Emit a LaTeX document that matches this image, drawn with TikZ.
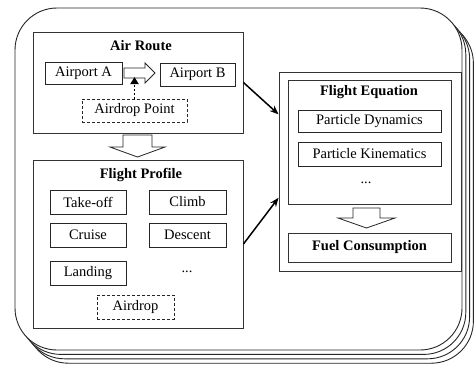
\documentclass[tikz,border=0pt]{standalone}
\usepackage{fontspec}
\setmainfont{Liberation Serif}
\usetikzlibrary{arrows.meta}

\begin{document}
\begin{tikzpicture}[
    x = 1pt, y = -1pt,
    font = \fontsize{14.5}{16}\selectfont,
    panel/.style = {draw = black!85,
      line width = 0.9pt,
      fill = white,
      rounded corners = 42pt},
    group/.style = {draw = black!80,
      line width = 0.9pt,
      inner sep = 0pt},
    title/.style = {font = \fontsize{14.5}{16}\selectfont\bfseries,
      inner sep = 0pt},
    item/.style = {draw = black!85,
      line width = 0.8pt,
      inner sep = 0pt,
      minimum height = 23pt},
    option/.style = {item, dash pattern = on 3pt off 2pt},
    hollow/.style = {draw = black!85,
      line width = 0.8pt,
      fill = white},
    link/.style = {-{Stealth[length = 9pt, width = 7pt]}, line width = 1.5pt},
    ]

    \useasboundingbox (0, 0) rectangle (476, 368);

    \foreach \k in {3, 2, 1}
    \draw [panel, shift = {(\k*3.8, \k*4.4)}] (15, 8) rectangle (462, 350);
    \draw [panel] (15, 8) rectangle (462, 350);

    \node at (138, 82.5)
    [group, minimum width = 210pt, minimum height = 101pt, name = route] {};
    \node at (141, 46) [title, name = route_t] {Air Route};
    \node at (83.5, 73)
    [item, minimum width = 77pt, minimum height = 22pt, name = apt_a] {Airport A};
    \node at (197.5, 74.5)
    [item, minimum width = 75pt, name = apt_b] {Airport B};
    \node at (134.5, 110.5)
    [option, minimum width = 105pt, name = drop_pt] {Airdrop Point};

    \draw [hollow] (124, 68) -- (145, 68) -- (145, 63) -- (155, 73)
    -- (145, 83) -- (145, 78) -- (124, 78) -- cycle;

    \draw [dotted, line width = 1.8pt,
      -{Triangle[length = 7pt, width = 8pt]}, shorten > = 4pt]
    (drop_pt.north) -- (drop_pt.north |- apt_a.center);

    \draw [hollow] (123, 135) -- (152, 135) -- (152, 147) -- (165, 147)
    -- (137.5, 157) -- (110, 147) -- (123, 147) -- cycle;

    \node at (138, 244)
    [group, minimum width = 210pt, minimum height = 168pt, name = profile] {};
    \node at (141, 175) [title, name = profile_t] {Flight Profile};
    \node at (88, 202)
    [item, minimum width = 76pt, minimum height = 24pt, name = takeoff] {Take-off};
    \node at (187.5, 202)
    [item, minimum width = 77pt, minimum height = 24pt, name = climb] {Climb};
    \node at (88, 235)
    [item, minimum width = 76pt, minimum height = 24pt, name = cruise] {Cruise};
    \node at (187.5, 235)
    [item, minimum width = 77pt, minimum height = 24pt, name = descent] {Descent};
    \node at (88, 273)
    [item, minimum width = 76pt, minimum height = 24pt, name = landing] {Landing};
    \node at (187, 272) [inner sep = 0pt, name = more_p] {...};
    \node at (135.5, 307)
    [option, minimum width = 77pt, minimum height = 24pt, name = drop] {Airdrop};

    \node at (370, 171.5)
    [group, minimum width = 182pt, minimum height = 199pt, name = eq_group] {};
    \node at (369.5, 142)
    [group, minimum width = 163pt, minimum height = 124pt, name = equation] {};
    \node at (369, 92) [title, name = equation_t] {Flight Equation};
    \node at (369.5, 121)
    [item, minimum width = 143pt, minimum height = 22pt, name = dynamics] {Particle Dynamics};
    \node at (369.5, 154)
    [item, minimum width = 143pt, minimum height = 24pt, name = kinematics] {Particle Kinematics};
    \node at (366, 183) [inner sep = 0pt, name = more_e] {...};

    \draw [hollow] (353, 208) -- (380, 208) -- (380, 218) -- (395, 218)
    -- (366.5, 228) -- (338, 218) -- (353, 218) -- cycle;

    \node at (369.5, 247.5)
    [group, title, minimum width = 163pt, minimum height = 29pt, name = fuel] {Fuel Consumption};

    \draw [link] (route.east) -- (eq_group.148);
    \draw [link] (profile.east) -- (eq_group.196);

  \end{tikzpicture}
\end{document}
